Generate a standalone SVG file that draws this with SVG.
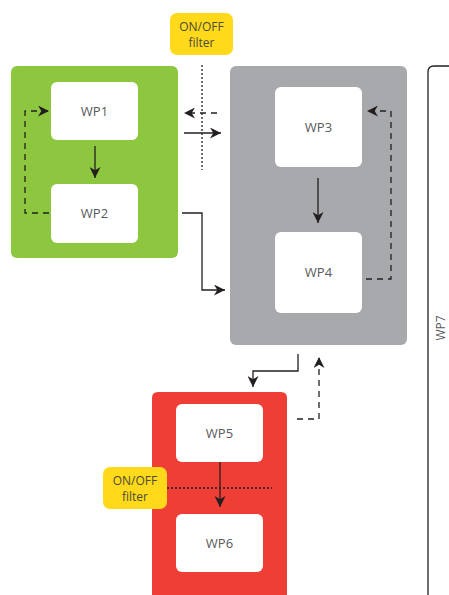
<svg xmlns="http://www.w3.org/2000/svg" width="449" height="595" viewBox="0 0 449 595">
<defs>
<style>
.box{fill:#fff}
.lbl{font-family:"Open Sans","Liberation Sans",sans-serif;font-size:13px;fill:#58595b;text-anchor:middle}
.flt{font-family:"Open Sans","Liberation Sans",sans-serif;font-size:12px;fill:#4a4a3a;text-anchor:middle}
.ln{fill:none;stroke:#231f20;stroke-width:1.3}
.dash{stroke-dasharray:6 5}
.dot{fill:none;stroke:#231f20;stroke-width:1.3;stroke-dasharray:2 2}
</style>
<marker id="ah" viewBox="0 0 10 10" refX="10" refY="5" markerWidth="11" markerHeight="11" markerUnits="userSpaceOnUse" orient="auto">
<path d="M0,0 L10,5 L0,10 L3,5 Z" fill="#231f20"/>
</marker>
</defs>
<rect width="449" height="595" fill="#fff"/>
<g id="wp7">
<path d="M428,595 V72 Q428,66 434,66 H449" fill="none" stroke="#231f20" stroke-width="1.3"/>
<text class="lbl" transform="translate(445,328) rotate(-90)" style="font-size:12px">WP7</text>
</g>
<g id="group-green">
<rect x="11" y="66" width="167" height="192" rx="6" fill="#8dc63f"/>
</g>
<g id="group-gray">
<rect x="230" y="66" width="177" height="279" rx="6" fill="#a7a9ac"/>
</g>
<g id="group-red">
<path d="M152,595 V398 Q152,392 158,392 H281 Q287,392 287,398 V595 Z" fill="#ef3e36"/>
</g>
<g id="wp1"><rect class="box" x="51" y="82" width="87" height="58" rx="6"/><text class="lbl" x="94.5" y="116">WP1</text></g>
<g id="wp2"><rect class="box" x="51" y="184" width="87" height="59" rx="6"/><text class="lbl" x="94.5" y="218">WP2</text></g>
<g id="wp3"><rect class="box" x="275" y="87" width="87" height="80" rx="6"/><text class="lbl" x="318.5" y="132">WP3</text></g>
<g id="wp4"><rect class="box" x="275" y="232" width="87" height="81" rx="6"/><text class="lbl" x="318.5" y="277">WP4</text></g>
<g id="wp5"><rect class="box" x="176" y="404" width="87" height="58" rx="6"/><text class="lbl" x="219.5" y="438">WP5</text></g>
<g id="wp6"><rect class="box" x="176" y="514" width="87" height="58" rx="6"/><text class="lbl" x="219.5" y="548">WP6</text></g>
<g id="filter-top">
<line class="dot" x1="202" y1="65" x2="202" y2="170"/>
<rect x="170" y="13" width="63" height="42" rx="7" fill="#ffd91a"/>
<text class="flt" x="201.5" y="31">ON/OFF</text>
<text class="flt" x="201.5" y="47">filter</text>
</g>
<g id="filter-bottom">
<line class="dot" x1="167" y1="488" x2="272" y2="488"/>
<rect x="103" y="467" width="64" height="42" rx="7" fill="#ffd91a"/>
<text class="flt" x="135" y="485">ON/OFF</text>
<text class="flt" x="135" y="501">filter</text>
</g>
<g id="connectors">
<line class="ln" x1="95" y1="146" x2="95" y2="178" marker-end="url(#ah)"/>
<polyline class="ln dash" points="49,213 25,213 25,111 49,111" marker-end="url(#ah)"/>
<line class="ln dash" x1="217" y1="113" x2="184" y2="113" marker-end="url(#ah)"/>
<line class="ln" x1="184" y1="133" x2="221" y2="133" marker-end="url(#ah)"/>
<polyline class="ln" points="182,213 202,213 202,290 225,290" marker-end="url(#ah)"/>
<line class="ln" x1="318" y1="178" x2="318" y2="223" marker-end="url(#ah)"/>
<polyline class="ln dash" points="366,279 391,279 391,111 367,111" marker-end="url(#ah)"/>
<polyline class="ln" points="298,354 298,371 253,371 253,387" marker-end="url(#ah)"/>
<polyline class="ln dash" points="297,419 319,419 319,357" marker-end="url(#ah)"/>
<line class="ln" x1="220" y1="462" x2="220" y2="507" marker-end="url(#ah)"/>
</g>
</svg>
